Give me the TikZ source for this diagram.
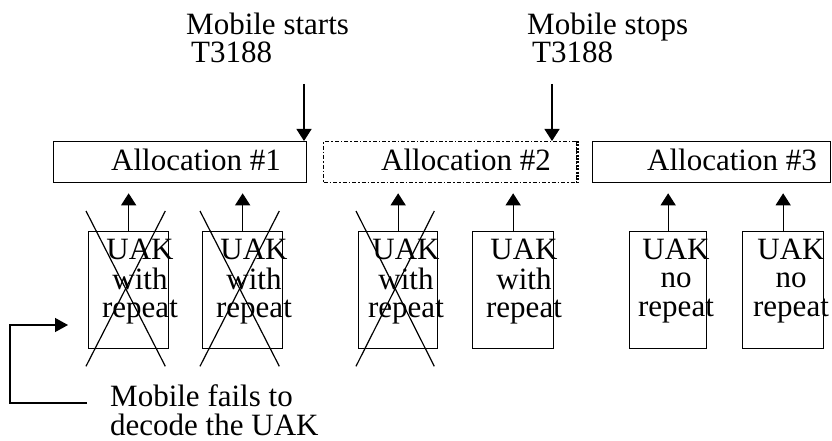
\documentclass[tikz,border=0pt]{standalone}
\usepackage{fontspec}
\setmainfont{Liberation Serif}
\usetikzlibrary{arrows.meta}
\begin{document}
\begin{tikzpicture}[x=1pt,y=-1pt,
  txt/.style={inner sep=0pt,font=\fontsize{31}{28.5}\selectfont},
  allocbox/.style={draw,line width=1.3pt,minimum width=253pt,minimum height=41pt,inner sep=0pt,anchor=north west},
  dotbox/.style={allocbox,dash pattern=on 4pt off 2pt on 1.5pt off 2pt},
  uakbox/.style={draw,line width=1.3pt,minimum width=80pt,minimum height=117pt,inner sep=0pt,anchor=north west},
  arr/.style={line width=1.3pt,-{Triangle[length=12pt,width=15pt]}},
  xline/.style={line width=1.2pt},
  callout/.style={line width=1.3pt,-{Triangle[length=13pt,width=14pt]}}]
\useasboundingbox (0,0) rectangle (832,441);

% top labels
\node[txt,anchor=base west] (ms1) at (186,35) {Mobile starts};
\node[txt,anchor=base west] (mt1) at (191,63) {T3188};
\node[txt,anchor=base west] (ms2) at (527,35) {Mobile stops};
\node[txt,anchor=base west] (mt2) at (532,63) {T3188};

% allocation boxes
\node[allocbox] (a1) at (53,141) {};
\node[dotbox] (a2) at (323,141) {};
\draw[line width=2.4pt,dash pattern=on 2pt off 1.4pt] (a2.north east) -- (a2.south east);
\node[allocbox,minimum width=238pt] (a3) at (592,141) {};
\node[txt,anchor=base west] (at1) at (111,170) {Allocation \#1};
\node[txt,anchor=base west] (at2) at (381,170) {Allocation \#2};
\node[txt,anchor=base west] (at3) at (647,170) {Allocation \#3};

% top arrows
\coordinate (s1) at (304,84);
\coordinate (s2) at (552,84);
\draw[arr] (s1) -- (s1 |- a1.north);
\draw[arr] (s2) -- (s2 |- a2.north);

% UAK boxes
\node[uakbox] (u1) at (88,231) {};
\node[uakbox] (u2) at (202,231) {};
\node[uakbox,minimum width=79pt] (u3) at (358,231) {};
\node[uakbox,minimum width=81pt] (u4) at (472,231) {};
\node[uakbox,minimum width=77pt] (u5) at (629,231) {};
\node[uakbox,minimum width=81pt] (u6) at (742,231) {};

\newcommand{\uaktext}[1]{\begin{tabular}[t]{@{}c@{}}#1\end{tabular}}
\newcommand{\lefttext}[1]{\begin{tabular}[t]{@{}l@{}}#1\end{tabular}}
\node[txt,anchor=base] (ut1) at (140,259) {\uaktext{UAK\\with\\repeat}};
\node[txt,anchor=base] (ut2) at (254,259) {\uaktext{UAK\\with\\repeat}};
\node[txt,anchor=base] (ut3) at (406,259) {\uaktext{UAK\\with\\repeat}};
\node[txt,anchor=base] (ut4) at (524,259) {\uaktext{UAK\\with\\repeat}};
\node[txt,anchor=base] (ut5) at (676,259) {\uaktext{UAK\\no\\repeat}};
\node[txt,anchor=base] (ut6) at (791,259) {\uaktext{UAK\\no\\repeat}};

% up arrows
\draw[arr,shorten >=10pt] (u1.north) -- (u1.north |- a1.south);
\draw[arr,shorten >=10pt] (u2.north) -- (u2.north |- a1.south);
\draw[arr,shorten >=10pt] (u3.north) -- (u3.north |- a2.south);
\draw[arr,shorten >=10pt] (u4.north) -- (u4.north |- a2.south);
\draw[arr,shorten >=10pt] (u5.north) -- (u5.north |- a3.south);
\draw[arr,shorten >=10pt] (u6.north) -- (u6.north |- a3.south);

% crosses
\foreach \u in {u1,u2,u3}{
  \draw[xline] ([xshift=-2pt,yshift=20pt]\u.north west) -- ([xshift=-4pt,yshift=-17pt]\u.south east);
  \draw[xline] ([xshift=-4pt,yshift=20pt]\u.north east) -- ([xshift=-2pt,yshift=-17pt]\u.south west);
}

% callout
\node[txt,anchor=base west,font=\fontsize{31}{27}\selectfont,text depth=0pt] (f1) at (110,406) {\lefttext{Mobile fails to\\decode the UAK}};
\coordinate (c1) at (87,403);
\coordinate (cc) at (10,403);
\coordinate (c2) at (68,325);
\draw[callout] (c1) -- (cc) |- (c2);
\end{tikzpicture}
\end{document}
